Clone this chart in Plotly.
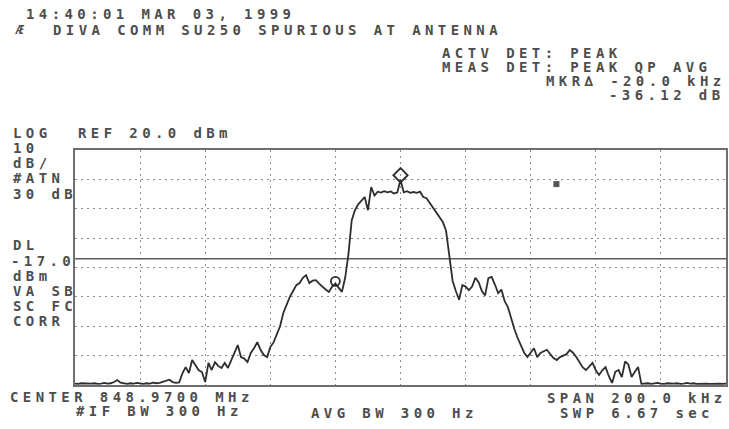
import plotly.graph_objects as go

# ---- sweep data: offset from centre frequency (kHz) and measured level (dBm) ----
level_dbm = [
    # -100 .. -68 kHz
    -59.5, -59.6, -59.4, -59.5, -59.6, -59.5, -59.4, -59.6, -59.5, -59.3,
    -59.5, -59.4, -59.0, -58.3, -59.2, -59.5, -59.6, -59.4, -59.5, -59.3,
    -59.5, -59.6, -59.4, -59.5, -59.2, -59.4, -59.3, -59.0, -58.6, -58.2,
    -59.0, -59.3, -59.1,
    # -67 .. -36 kHz
    -56.0, -53.9, -55.9, -51.5, -53.5, -55.0, -55.6, -59.0, -52.5, -54.9,
    -52.2, -53.5, -54.2, -52.5, -54.2, -51.5, -48.5, -46.4, -50.5, -51.0,
    -52.2, -49.1, -47.5, -45.4, -48.0, -49.8, -50.5, -47.1, -45.5, -42.5,
    -40.0, -35.5,
    # -35 .. -16 kHz
    -32.5, -30.0, -28.0, -26.0, -25.3, -23.5, -22.6, -25.3, -24.5, -24.3,
    -25.5, -26.6, -27.5, -28.3, -26.5, -25.5, -27.0, -28.3, -23.5, -15.5,
    # -15 .. 14 kHz
    -4.0, -0.5, 1.5, 2.8, 4.0, -0.5, 7.4, 4.5, 5.8, 5.5,
    6.0, 5.6, 5.9, 5.2, 5.5, 9.8, 5.6, 6.0, 5.4, 5.7,
    5.4, 5.8, 4.0, 3.6, 2.0, 0.5, -1.0, -2.8, -4.5, -7.5,
    # 15 .. 74 kHz
    -17.0, -24.5, -28.0, -31.0, -26.0, -26.5, -27.7, -26.5, -23.5, -25.0,
    -28.0, -29.5, -23.6, -23.2, -25.8, -28.7, -27.5, -31.5, -33.5, -37.5,
    -41.0, -44.0, -46.5, -49.0, -50.5, -49.1, -47.5, -50.5, -49.1, -48.5,
    -48.0, -49.5, -50.8, -51.5, -50.5, -50.0, -49.5, -48.1, -49.0, -50.5,
    -52.5, -54.0, -54.9, -53.5, -52.5, -55.0, -56.6, -55.0, -53.9, -57.0,
    -59.3, -55.5, -54.9, -57.3, -52.0, -53.0, -57.3, -55.5, -53.9, -59.6,
    # 75 .. 100 kHz
    -59.5, -59.4, -59.6, -59.5, -59.3, -59.5, -59.6, -59.4, -59.5, -59.5,
    -59.4, -59.6, -59.5, -59.3, -59.5, -59.4, -59.6, -59.5, -59.4, -59.5,
    -59.6, -59.5, -59.4, -59.5, -59.6, -59.5,
]
start_khz = -100
freq_khz = [start_khz + i for i in range(len(level_dbm))]

# markers: reference marker on the carrier peak, delta marker 20 kHz below
ref_marker_khz = [0.0]
ref_marker_dbm = [11.4]
delta_khz = [-20.0]
delta_db = [-36.12]
spot_khz = [47.9]
spot_dbm = [8.4]

display_line_dbm = -17.0
ref_level_dbm = 20.0
db_per_div = 10
n_vdiv = 8
span_khz = 200.0

# ---- screen annotation texts ----
header_texts = ["14:40:01 MAR 03, 1999", "DIVA COMM SU250 SPURIOUS AT ANTENNA"]
logo_text = "Æ"
status_texts = ["ACTV DET: PEAK", "MEAS DET: PEAK QP AVG", "MKR∆ -20.0 kHz", "-36.12 dB"]
ref_text = "REF 20.0 dBm"
side_texts = ["LOG", "10", "dB/", "#ATN", "30 dB", "DL", "-17.0", "dBm", "VA SB", "SC FC", "CORR"]
footer_texts = ["CENTER 848.9700 MHz", "#IF BW 300 Hz", "AVG BW 300 Hz", "SPAN 200.0 kHz", "SWP 6.67 sec"]

# ---- layout geometry (pixels) ----
W, H = 729, 429
ML, MR, MT, MB = 75, 1, 150, 44


def px(x):
    return (x - ML) / (W - ML - MR)


def py(y):
    return (H - MB - y) / (H - MT - MB)


TEXT_COLOR = "#4d4d4d"
FONT = dict(family="DejaVu Sans Mono", size=14, color=TEXT_COLOR, weight="bold")

header_pos = [(25, 14), (52, 30)]
logo_pos = (14, 30)
status_pos = [(442, 53), (442, 67), (546, 81), (610, 95)]
ref_pos = (77, 133)
side_pos = [(12, 133), (12, 148), (12, 163), (12, 178), (12, 194), (12, 245),
            (10, 261), (12, 276), (12, 291), (12, 306), (12, 321)]
footer_pos = [(9, 397), (75, 411), (311, 413), (547, 398), (560, 413)]

fig = go.Figure()

# display line
fig.add_trace(go.Scatter(
    x=[freq_khz[0], freq_khz[-1]], y=[display_line_dbm, display_line_dbm],
    mode="lines", line=dict(color="#5e5e5e", width=1.6), hoverinfo="skip"))

# spectrum trace
fig.add_trace(go.Scatter(
    x=freq_khz, y=level_dbm, mode="lines",
    line=dict(color="#2e2e2e", width=1.8), hoverinfo="skip"))

# reference marker (diamond) and delta marker (circle)
fig.add_trace(go.Scatter(
    x=ref_marker_khz, y=ref_marker_dbm, mode="markers",
    marker=dict(symbol="diamond-open", size=11, color="#2e2e2e", line=dict(width=1.8))))
fig.add_trace(go.Scatter(
    x=[ref_marker_khz[0] + delta_khz[0]], y=[ref_marker_dbm[0] + delta_db[0]], mode="markers",
    marker=dict(symbol="circle-open", size=9, color="#2e2e2e", line=dict(width=1.8))))
fig.add_trace(go.Scatter(
    x=spot_khz, y=spot_dbm, mode="markers",
    marker=dict(symbol="square", size=6, color="#555555")))

annotations = []


def add_text(text, pos, **font_over):
    f = dict(FONT)
    f.update(font_over)
    annotations.append(dict(
        text=text, x=px(pos[0]), y=py(pos[1]), xref="paper", yref="paper",
        xanchor="left", yanchor="middle", align="left", showarrow=False,
        borderpad=0, font=f))


for t, p in zip(header_texts, header_pos):
    add_text(t, p)
add_text(logo_text, logo_pos, style="italic", size=13)
for t, p in zip(status_texts, status_pos):
    add_text(t, p)
add_text(ref_text, ref_pos)
for t, p in zip(side_texts, side_pos):
    add_text(t, p)
for t, p in zip(footer_texts, footer_pos):
    add_text(t, p)

bottom_dbm = ref_level_dbm - db_per_div * n_vdiv
fig.update_layout(
    width=W, height=H,
    margin=dict(l=ML, r=MR, t=MT, b=MB, pad=0),
    paper_bgcolor="white", plot_bgcolor="white",
    showlegend=False,
    annotations=annotations,
    xaxis=dict(range=[-span_khz / 2, span_khz / 2], dtick=span_khz / 10,
               showticklabels=False, ticks="", zeroline=False,
               showgrid=True, gridcolor="#8c8c8c", griddash="2px,4px", gridwidth=1,
               showline=True, mirror=True, linecolor="#6e6e6e", linewidth=2),
    yaxis=dict(range=[bottom_dbm, ref_level_dbm], dtick=db_per_div,
               showticklabels=False, ticks="", zeroline=False,
               showgrid=True, gridcolor="#8c8c8c", griddash="2px,4px", gridwidth=1,
               showline=True, mirror=True, linecolor="#6e6e6e", linewidth=2),
)

# wide character pitch of the analyser's screen font
spacing_js = (
    "document.querySelectorAll('.annotation-text').forEach(function(t){"
    "t.style.letterSpacing='4.4px';"
    "t.setAttribute('text-anchor','start');});"
)

fig.write_html("out.html", post_script=spacing_js)
